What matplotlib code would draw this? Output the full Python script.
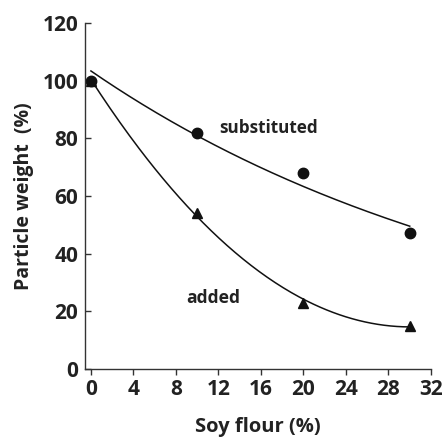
import numpy as np
import matplotlib.pyplot as plt

plt.rcParams['font.family'] = ['Open Sans', 'DejaVu Sans']
plt.rcParams['font.weight'] = 'bold'

soy = [0, 10, 20, 30]
substituted = [100, 82, 68, 47]
added = [100, 54, 23, 15]

xticks = [0, 4, 8, 12, 16, 20, 24, 28, 32]
yticks = [0, 20, 40, 60, 80, 100, 120]

fig = plt.figure(figsize=(4.44, 4.37), dpi=100)
ax = fig.add_axes([0.1914, 0.1556, 0.7793, 0.7918])

xs = np.linspace(0, 30, 200)

# exponential fit for substituted, quadratic for added
k, b = np.polyfit(soy, np.log(substituted), 1)
ax.plot(xs, np.exp(b) * np.exp(k * xs), color='#111111', lw=1.1)
p = np.polyfit(soy, added, 2)
ax.plot(xs, np.polyval(p, xs), color='#111111', lw=1.1)

ax.plot(soy, substituted, 'o', color='#111111', ms=7.5, ls='none')
ax.plot(soy, added, '^', color='#111111', ms=6.5, ls='none')

ax.text(12.05, 83.6, 'substituted', fontsize=12.3, fontweight='bold',
        va='center', ha='left', color='#222222')
ax.text(8.94, 24.6, 'added', fontsize=12.6, fontweight='bold',
        va='center', ha='left', color='#222222')

ax.set_xlim(-0.56, 32)
ax.set_ylim(0, 120)
ax.set_xticks(xticks)
ax.set_yticks(yticks)
ax.tick_params(axis='x', direction='out', length=4.5, width=1, pad=3,
               labelsize=15, colors='#333333', labelcolor='#222222')
ax.tick_params(axis='y', direction='in', length=4, width=1, pad=5,
               labelsize=15, colors='#333333', labelcolor='#222222')
for t in ax.get_xticklabels() + ax.get_yticklabels():
    t.set_fontweight('bold')

ax.spines['top'].set_visible(False)
ax.spines['right'].set_visible(False)
for s in ['left', 'bottom']:
    ax.spines[s].set_color('#333333')
    ax.spines[s].set_linewidth(1)

ax.set_xlabel('Soy flour (%)', fontsize=14.5, fontweight='bold',
              color='#222222', labelpad=12)
ax.set_ylabel('Particle weight  (%)', fontsize=14, fontweight='bold',
              color='#222222', labelpad=6)

fig.savefig('out.png', dpi=100)
